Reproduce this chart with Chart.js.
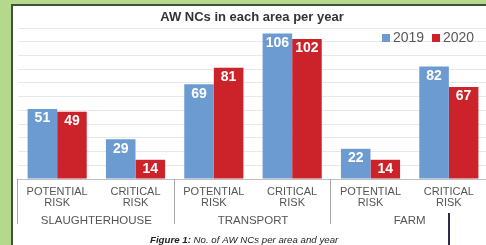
<!DOCTYPE html>
<html>
<head>
<meta charset="utf-8">
<script src="https://cdn.jsdelivr.net/npm/chart.js@4.4.1/dist/chart.umd.min.js"></script>
<style>
  html, body { margin: 0; padding: 0; width: 486px; height: 245px; overflow: hidden; background: #b4d98d; }
  .frame { position: absolute; left: 11px; top: 4px; width: 520px; height: 260px; background: #fff;
           border-left: 2px solid #3f5537; border-top: 2px solid #3f5537; }
  #chart-aw { position: absolute; left: 0; top: 0; }
</style>
</head>
<body>
<div class="frame"></div>
<canvas id="chart-aw" width="500" height="245"></canvas>
<script>
// 데이터
const categories = [
  ['POTENTIAL', 'RISK'], ['CRITICAL', 'RISK'],
  ['POTENTIAL', 'RISK'], ['CRITICAL', 'RISK'],
  ['POTENTIAL', 'RISK'], ['CRITICAL', 'RISK']
];
const groups = ['SLAUGHTERHOUSE', 'TRANSPORT', 'FARM'];
const seriesNames = ['2019', '2020'];
const values2019 = [51, 29, 69, 106, 22, 82];
const values2020 = [49, 14, 81, 102, 14, 67];
const yMax = 110;
const yStep = 10;

const BLUE = '#6c9bd2';
const RED = '#cc2229';
const FONT = "'Liberation Sans', Arial, sans-serif";

/* --- 라벨, 구분선, 제목, 범례 --- */
const decorPlugin = {
  id: 'decor',
  afterDatasetsDraw(chart) {
    const { ctx: c, chartArea: { left, right, bottom }, scales: { x } } = chart;

    // bar value labels
    c.save();
    c.font = `bold 14px ${FONT}`;
    c.fillStyle = '#fff';
    c.textAlign = 'center';
    c.textBaseline = 'middle';
    chart.data.datasets.forEach((ds, di) => {
      chart.getDatasetMeta(di).data.forEach((bar, i) => {
        c.fillText(ds.data[i], bar.x, bar.y + 9.5);
      });
    });
    c.restore();

    // category labels
    c.save();
    c.font = `11px ${FONT}`;
    c.fillStyle = '#555';
    c.textAlign = 'center';
    c.textBaseline = 'middle';
    categories.forEach((lines, i) => {
      const px = x.getPixelForValue(i);
      lines.forEach((t, li) => c.fillText(t, px, 191.5 + li * 11.5));
    });

    // group labels
    c.font = `11.5px ${FONT}`;
    groups.forEach((g, gi) => {
      const px = (x.getPixelForValue(gi * 2) + x.getPixelForValue(gi * 2 + 1)) / 2;
      c.fillText(g, px, 221);
    });
    c.restore();

    // group separators
    c.save();
    c.strokeStyle = '#a6a6a6';
    c.lineWidth = 1;
    const step = (right - left) / categories.length;
    for (let gi = 0; gi <= groups.length; gi++) {
      const px = Math.round(left + gi * 2 * step) - 0.5;
      c.beginPath();
      c.moveTo(px, bottom);
      c.lineTo(px, 224);
      c.stroke();
    }
    c.restore();

    // title
    c.save();
    c.font = `bold 13px ${FONT}`;
    c.fillStyle = '#333';
    c.textAlign = 'center';
    c.textBaseline = 'middle';
    c.fillText('AW NCs in each area per year', 252, 17);
    c.restore();

    // legend
    c.save();
    c.font = `14px ${FONT}`;
    c.fillStyle = '#595959';
    c.textBaseline = 'middle';
    const legendX = [382, 432];
    [BLUE, RED].forEach((col, i) => {
      c.fillStyle = col;
      c.fillRect(legendX[i], 34, 8, 8);
      c.fillStyle = '#595959';
      c.fillText(seriesNames[i], legendX[i] + 11, 38.5);
    });
    c.restore();

    // caption
    c.save();
    c.textBaseline = 'middle';
    c.fillStyle = '#222';
    c.font = `italic bold 9.7px ${FONT}`;
    const lead = 'Figure 1:';
    c.fillText(lead, 150, 240);
    const w = c.measureText(lead + ' ').width;
    c.font = `italic 9.7px ${FONT}`;
    c.fillText('No. of AW NCs per area and year', 150 + w, 240);
    c.restore();

    // dark stroke below FARM
    c.save();
    c.strokeStyle = '#2e2b4d';
    c.lineWidth = 2;
    c.beginPath();
    c.moveTo(449, 213);
    c.lineTo(449, 245);
    c.stroke();
    c.restore();
  }
};

new Chart(document.getElementById('chart-aw'), {
  type: 'bar',
  data: {
    labels: categories.map(l => l.join(' ')),
    datasets: [
      { label: seriesNames[0], data: values2019, backgroundColor: BLUE },
      { label: seriesNames[1], data: values2020, backgroundColor: RED }
    ]
  },
  plugins: [decorPlugin],
  options: {
    responsive: false,
    devicePixelRatio: 1,
    animation: false,
    categoryPercentage: 0.755,
    barPercentage: 1.0,
    layout: { padding: { left: 18, right: 12, top: 28, bottom: 66 } },
    plugins: {
      legend: { display: false },
      tooltip: { enabled: false }
    },
    scales: {
      x: {
        ticks: { display: false },
        grid: { display: false, drawTicks: false },
        border: { display: true, color: '#bfbfbf' }
      },
      y: {
        min: 0,
        max: yMax,
        ticks: { display: false, stepSize: yStep },
        grid: { color: '#e8e8e8', drawTicks: false },
        border: { display: false }
      }
    }
  }
});
</script>
</body>
</html>
